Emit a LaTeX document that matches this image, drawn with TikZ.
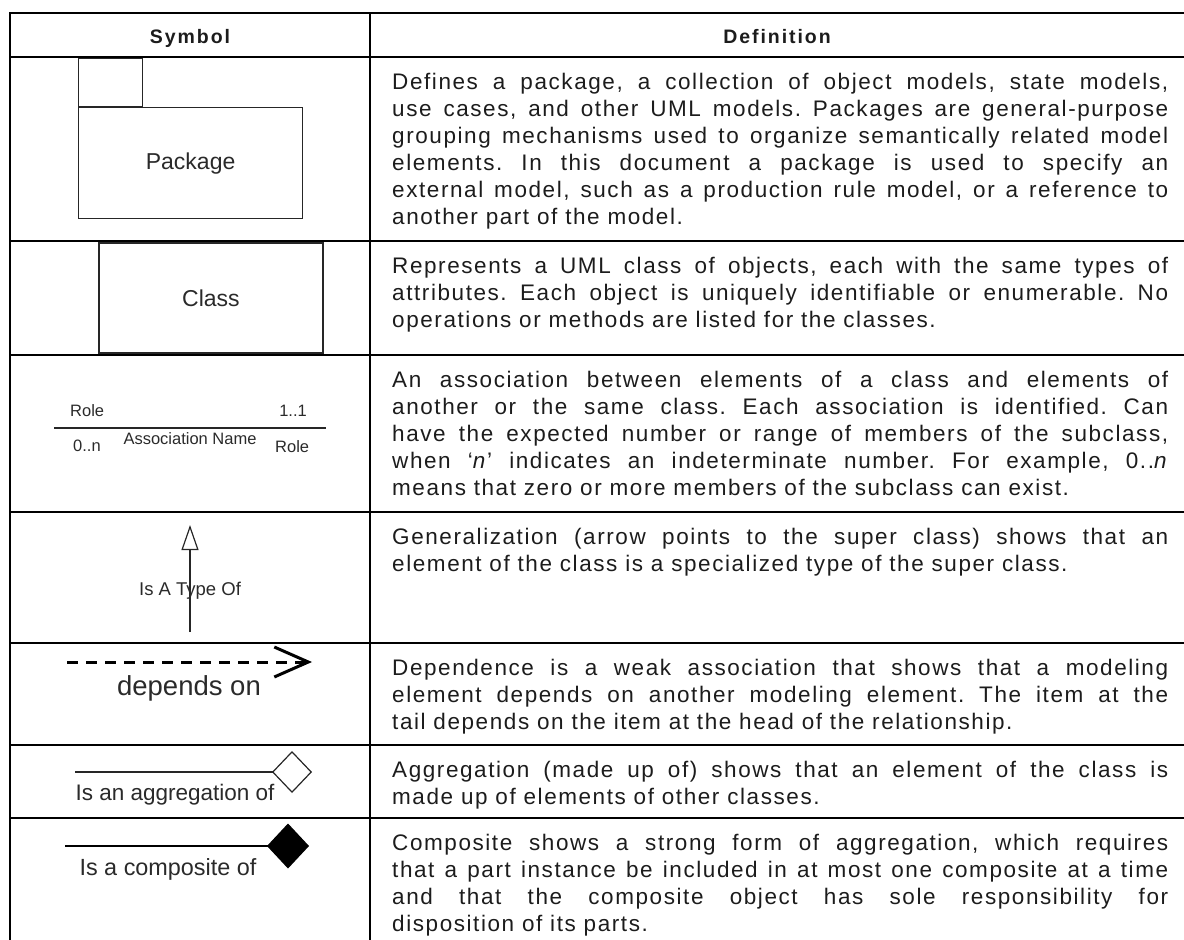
\documentclass[tikz,border=0pt]{standalone}
\usepackage{fontspec}
\setmainfont{Liberation Sans}
\newfontfamily\deffont{Liberation Sans}[LetterSpace=7]
\newfontfamily\headfont{Liberation Sans}[LetterSpace=10]
\usetikzlibrary{arrows.meta}
\definecolor{ink}{HTML}{1C1C1C}
\definecolor{symink}{HTML}{2A2A2A}
\definecolor{symedge}{HTML}{262626}
% one justified line of definition text, spread to the column width
\newcommand{\J}[1]{\makebox[776pt][s]{#1}}
\frenchspacing
\begin{document}
\begin{tikzpicture}[x=1pt,y=-1pt,
  rule/.style={line width=2.4pt, black},
  symline/.style={draw=symedge, line width=1.2pt},
  symtext/.style={inner sep=0pt, text=symink},
  defl/.style={anchor=base west, inner sep=0pt, text=ink,
    font=\deffont\fontsize{22.5}{27}\selectfont},
  head/.style={inner sep=0pt, anchor=base, text=ink,
    font=\headfont\bfseries\fontsize{19.5}{23}\selectfont},
]
\useasboundingbox (0,0) rectangle (1184,940);

% table rules
\draw[rule] (1184,13) -- (10,13) -- (10,940);
\draw[rule] (370,13) -- (370,940);
\foreach \yy in {57,241,355,512,643,745,818}
  \draw[rule] (10,\yy) -- (1184,\yy);

% header
\node[head] (hsym) at (190,43) {Symbol};
\node[head] (hdef) at (777,43) {Definition};

% package symbol
\node[symline, anchor=south west, minimum width=64pt, minimum height=48pt, inner sep=0pt] (pkgtab) at (78,107) {};
\node[symline, symtext, anchor=north west, minimum width=224pt, minimum height=111pt,
  font=\fontsize{23}{27}\selectfont] (pkg) at (78,107) {Package};

% class symbol
\node[symline, symtext, minimum width=224pt, minimum height=110pt,
  font=\fontsize{23}{27}\selectfont] (cls) at (211,298) {Class};

% association symbol
\coordinate (as0) at (54,428);
\coordinate (as1) at (326,428);
\draw[symline] (as0) -- (as1);
\begin{scope}[every node/.style={symtext, font=\fontsize{16.5}{19}\selectfont}]
  \node[anchor=base west] (role1) at (70,416) {Role};
  \node[anchor=base east] (mult1) at (307,416) {1..1};
  \node[anchor=base west] (mult0) at (73,451) {0..n};
  \node[anchor=base] (asname) at (190,444) {Association Name};
  \node[anchor=base west] (role2) at (275,452) {Role};
\end{scope}

% generalization symbol
\coordinate (gen0) at (190,632);
\coordinate (gen1) at (190,525);
\draw[symline, -{Triangle[open, length=25pt, width=17pt]}] (gen0) -- (gen1);
\node[symtext, anchor=base, font=\fontsize{18.5}{22}\selectfont] (gentext) at (190,595) {Is A Type Of};

% dependency symbol
\coordinate (dep0) at (67,662);
\coordinate (dep1) at (312,662);
\draw[line width=3pt, dash pattern=on 11pt off 8pt,
  -{Straight Barb[length=34pt, width=30pt, line width=3pt]}] (dep0) -- (dep1);
\node[symtext, anchor=base, font=\fontsize{27.5}{32}\selectfont] (deptext) at (189,695) {depends on};

% aggregation symbol
\coordinate (agg0) at (75,772);
\coordinate (agg1) at (312,772);
\draw[symline, -{Diamond[open, length=40pt, width=42pt]}] (agg0) -- (agg1);
\node[symtext, anchor=base, font=\fontsize{22.5}{26}\selectfont] (aggtext) at (175,800) {Is an aggregation of};

% composition symbol
\coordinate (cmp0) at (65,846);
\coordinate (cmp1) at (309,846);
\draw[draw=black, line width=1.2pt, -{Diamond[length=42pt, width=45pt]}] (cmp0) -- (cmp1);
\node[symtext, anchor=base, font=\fontsize{23.4}{27}\selectfont] (cmptext) at (168,875) {Is a composite of};

% definitions: package
\node[defl] (pa1) at (392,89)  {\J{Defines a package, a collection of object models, state models,}};
\node[defl] (pa2) at (392,116) {\J{use cases, and other UML models. Packages are general-purpose}};
\node[defl] (pa3) at (392,143) {\J{grouping mechanisms used to organize semantically related model}};
\node[defl] (pa4) at (392,170) {\J{elements. In this document a package is used to specify an}};
\node[defl] (pa5) at (392,197) {\J{external model, such as a production rule model, or a reference to}};
\node[defl] (pa6) at (392,224) {another part of the model.};

% definitions: class
\node[defl] (cl1) at (392,273) {\J{Represents a UML class of objects, each with the same types of}};
\node[defl] (cl2) at (392,300) {\J{attributes. Each object is uniquely identifiable or enumerable. No}};
\node[defl] (cl3) at (392,327) {operations or methods are listed for the classes.};

% definitions: association
\node[defl] (as1t) at (392,387) {\J{An association between elements of a class and elements of}};
\node[defl] (as2t) at (392,414) {\J{another or the same class. Each association is identified. Can}};
\node[defl] (as3t) at (392,441) {\J{have the expected number or range of members of the subclass,}};
\node[defl] (as4t) at (392,468) {\J{when ‘\textit{n}’ indicates an indeterminate number. For example, 0..\textit{n}}};
\node[defl] (as5t) at (392,495) {means that zero or more members of the subclass can exist.};

% definitions: generalization
\node[defl] (ge1) at (392,544) {\J{Generalization (arrow points to the super class) shows that an}};
\node[defl] (ge2) at (392,571) {element of the class is a specialized type of the super class.};

% definitions: dependency
\node[defl] (de1) at (392,675) {\J{Dependence is a weak association that shows that a modeling}};
\node[defl] (de2) at (392,702) {\J{element depends on another modeling element. The item at the}};
\node[defl] (de3) at (392,729) {tail depends on the item at the head of the relationship.};

% definitions: aggregation
\node[defl] (ag1) at (392,777) {\J{Aggregation (made up of) shows that an element of the class is}};
\node[defl] (ag2) at (392,804) {made up of elements of other classes.};

% definitions: composition
\node[defl] (co1) at (392,850) {\J{Composite shows a strong form of aggregation, which requires}};
\node[defl] (co2) at (392,877) {\J{that a part instance be included in at most one composite at a time}};
\node[defl] (co3) at (392,904) {\J{and that the composite object has sole responsibility for}};
\node[defl] (co4) at (392,931) {disposition of its parts.};
\end{tikzpicture}
\end{document}
